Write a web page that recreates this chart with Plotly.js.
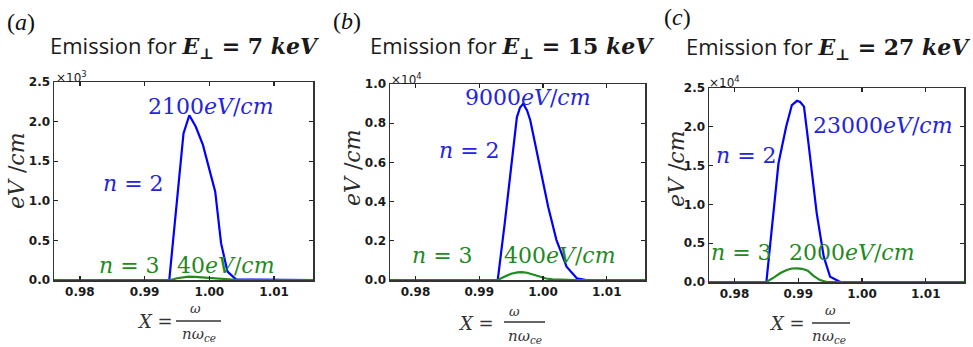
<!DOCTYPE html>
<html><head><meta charset="utf-8">
<script src="https://cdn.plot.ly/plotly-3.0.1.min.js"></script>
<style>html,body{margin:0;padding:0;background:#fff}#plot{width:973px;height:347px}</style>
</head><body><div id="plot"></div>
<script>
// ---- data ----
var xTickVals = [0.98, 0.99, 1.00, 1.01];
var xTickText = ['0.98', '0.99', '1.00', '1.01'];

// panel (a) E_perp = 7 keV
var xA2 = [0.976, 0.9938, 0.9960, 0.9969, 0.9979, 0.9990, 1.0009, 1.0018, 1.0028, 1.0041, 1.016];
var yA2 = [0, 0, 1850, 2080, 1935, 1705, 1115, 465, 105, 8, 0];
var xA3 = [0.976, 0.9940, 0.9950, 0.9960, 0.9968, 0.9978, 0.9990, 1.0005, 1.0020, 1.0035, 1.0045, 1.016];
var yA3 = [0, 0, 22, 38, 42, 40, 32, 20, 10, 4, 0, 0];
var yTickValsA = [0, 500, 1000, 1500, 2000, 2500];
var yTickTextA = ['0.0', '0.5', '1.0', '1.5', '2.0', '2.5'];

// panel (b) E_perp = 15 keV
var xB2 = [0.976, 0.9929, 0.9940, 0.9950, 0.9959, 0.9964, 0.9969, 0.9975, 0.9980, 0.9988, 0.9995, 1.0008, 1.0021, 1.0037, 1.0053, 1.0068, 1.016];
var yB2 = [0, 0, 2900, 5700, 8300, 8800, 9000, 8650, 8150, 6900, 5800, 3750, 2050, 680, 90, 0, 0];
var xB3 = [0.976, 0.9929, 0.9940, 0.9950, 0.9960, 0.9967, 0.9975, 0.9985, 0.9995, 1.0005, 1.0015, 1.0030, 1.0050, 1.016];
var yB3 = [0, 0, 180, 320, 390, 400, 370, 260, 150, 75, 35, 10, 0, 0];
var yTickValsB = [0, 2000, 4000, 6000, 8000, 10000];
var yTickTextB = ['0.0', '0.2', '0.4', '0.6', '0.8', '1.0'];

// panel (c) E_perp = 27 keV
var xC2 = [0.976, 0.9850, 0.9869, 0.9881, 0.9890, 0.9898, 0.9903, 0.9909, 0.9916, 0.9929, 0.9940, 0.9950, 0.9966, 1.016];
var yC2 = [0, 0, 15300, 20000, 22800, 23350, 23200, 22600, 17900, 8850, 3260, 680, 0, 0];
var xC3 = [0.976, 0.9850, 0.9862, 0.9872, 0.9882, 0.9890, 0.9898, 0.9906, 0.9915, 0.9924, 0.9934, 0.9945, 1.016];
var yC3 = [0, 0, 600, 1150, 1550, 1740, 1760, 1700, 1450, 800, 250, 0, 0];
var yTickValsC = [0, 5000, 10000, 15000, 20000, 25000];
var yTickTextC = ['0.0', '0.5', '1.0', '1.5', '2.0', '2.5'];

var panelLetters = ['a', 'b', 'c'];
var energies = ['7', '15', '27'];
var exponents = ['3', '4', '4'];
var peakLabels2 = ['2100', '9000', '23000'];
var peakLabels3 = ['40', '400', '2000'];

// ---- styling ----
var W = 973, H = 347;
var BLUE = '#0000ff', GREEN = '#1f8a1f', BLUET = '#2323e0', GREENT = '#1f8a1f';
function px(x) { return x / W; }
function py(y) { return 1 - y / H; }
function bold(arr) { return arr.map(function (t) { return '<b>' + t + '</b>'; }); }

var frames = [
  {l: 54, r: 313, t: 82, b: 280},
  {l: 390, r: 645, t: 84, b: 280},
  {l: 709, r: 964, t: 88, b: 282}
];
var tickFont = {family: 'DejaVu Sans', size: 12, color: '#1a1a1a'};

function xaxis(i) {
  var f = frames[i];
  return {
    domain: [px(f.l), px(f.r)], range: [0.976, 1.016], anchor: 'y' + (i ? i + 1 : ''),
    tickvals: xTickVals, ticktext: bold(xTickText), ticks: 'inside', ticklen: 4, tickwidth: 1.3, tickcolor: '#222',
    mirror: 'ticks', showline: true, linecolor: '#333', linewidth: 1.5, showgrid: false, zeroline: false,
    tickfont: tickFont, fixedrange: true
  };
}
function yaxis(i, rng, tv, tt) {
  var f = frames[i];
  return {
    domain: [py(f.b), py(f.t)], range: rng, anchor: 'x' + (i ? i + 1 : ''),
    tickvals: tv, ticktext: bold(tt), ticks: 'inside', ticklen: 4, tickwidth: 1.3, tickcolor: '#222',
    mirror: 'ticks', showline: true, linecolor: '#333', linewidth: 1.5, showgrid: false, zeroline: false,
    tickfont: tickFont, fixedrange: true
  };
}

function line(x, y, c, i) {
  return {x: x, y: y, type: 'scatter', mode: 'lines', line: {color: c, width: 2.2},
          xaxis: 'x' + (i ? i + 1 : ''), yaxis: 'y' + (i ? i + 1 : ''), hoverinfo: 'skip'};
}
var data = [
  line(xA2, yA2, BLUE, 0), line(xA3, yA3, GREEN, 0),
  line(xB2, yB2, BLUE, 1), line(xB3, yB3, GREEN, 1),
  line(xC2, yC2, BLUE, 2), line(xC3, yC3, GREEN, 2)
];

var anns = [], shapes = [];
function ann(text, x, y, font, opt) {
  var a = {xref: 'paper', yref: 'paper', x: px(x), y: py(y), text: text, showarrow: false,
           xanchor: 'center', yanchor: 'middle', font: font};
  for (var k in opt) a[k] = opt[k];
  anns.push(a);
}
var serif = 'DejaVu Serif';
var pos = [
  {lab: [21, 22], title: [184, 47], yt: [16, 171], exp: [54, 77],
   xt: [155, 321], om: [195, 308], bar: [176, 221, 321], den: [199, 334],
   p2: [211, 106], n2: [133, 183], n3: [129, 265], p3: [226, 265]},
  {lab: [347, 21], title: [512, 47], yt: [352, 168], exp: [389, 79],
   xt: [476, 323], om: [514, 311], bar: [504, 545, 322], den: [525, 336],
   p2: [528, 97], n2: [469, 150], n3: [442, 255], p3: [560, 255]},
  {lab: [677, 17], title: [828, 48], yt: [676, 169], exp: [707, 82],
   xt: [787, 323], om: [830, 310], bar: [812, 850, 323], den: [829, 336],
   p2: [883, 125], n2: [746, 155], n3: [741, 252], p3: [852, 252]}
];
for (var i = 0; i < 3; i++) {
  var p = pos[i];
  ann('(<i>' + panelLetters[i] + '</i>)', p.lab[0], p.lab[1], {family: 'Liberation Serif', size: 24, color: '#111'});
  ann('Emission for <span style="font-family:DejaVu Serif;font-weight:bold"><i>E</i><sub>⊥</sub> = ' + energies[i] + ' <i>keV</i></span>',
      p.title[0], p.title[1], {family: 'Open Sans', size: 22, color: '#1a1a1a'});
  ann('<i>eV</i> /<i>cm</i>', p.yt[0], p.yt[1], {family: serif, size: 22, color: '#2a2a2a'}, {textangle: -90});
  ann('×10<sup>' + exponents[i] + '</sup>', p.exp[0], p.exp[1], {family: 'DejaVu Sans', size: 12, color: '#1a1a1a'}, {xanchor: 'left'});
  ann('<i>X</i> =', p.xt[0], p.xt[1], {family: serif, size: 18, color: '#333'});
  ann('<i>ω</i>', p.om[0], p.om[1], {family: serif, size: 13, color: '#333'});
  ann('<i>nω</i><sub><i>ce</i></sub>', p.den[0], p.den[1], {family: serif, size: 15, color: '#333'});
  shapes.push({type: 'line', xref: 'paper', yref: 'paper', x0: px(p.bar[0]), x1: px(p.bar[1]), y0: py(p.bar[2]), y1: py(p.bar[2]),
               line: {color: '#333', width: 1.3}});
  ann(peakLabels2[i] + '<i>eV</i>/<i>cm</i>', p.p2[0], p.p2[1], {family: serif, size: 22, color: BLUET});
  ann('<i>n</i> = 2', p.n2[0], p.n2[1], {family: serif, size: 22, color: BLUET});
  ann('<i>n</i> = 3', p.n3[0], p.n3[1], {family: serif, size: 22, color: GREENT});
  ann(peakLabels3[i] + '<i>eV</i>/<i>cm</i>', p.p3[0], p.p3[1], {family: serif, size: 22, color: GREENT});
}

var layout = {
  width: W, height: H, margin: {l: 0, r: 0, t: 0, b: 0},
  paper_bgcolor: '#fff', plot_bgcolor: '#fff', showlegend: false,
  xaxis: xaxis(0), xaxis2: xaxis(1), xaxis3: xaxis(2),
  yaxis: yaxis(0, [0, 2500], yTickValsA, yTickTextA),
  yaxis2: yaxis(1, [0, 10000], yTickValsB, yTickTextB),
  yaxis3: yaxis(2, [0, 25000], yTickValsC, yTickTextC),
  annotations: anns, shapes: shapes
};
Plotly.newPlot('plot', data, layout, {displayModeBar: false, staticPlot: true});
</script></body></html>
